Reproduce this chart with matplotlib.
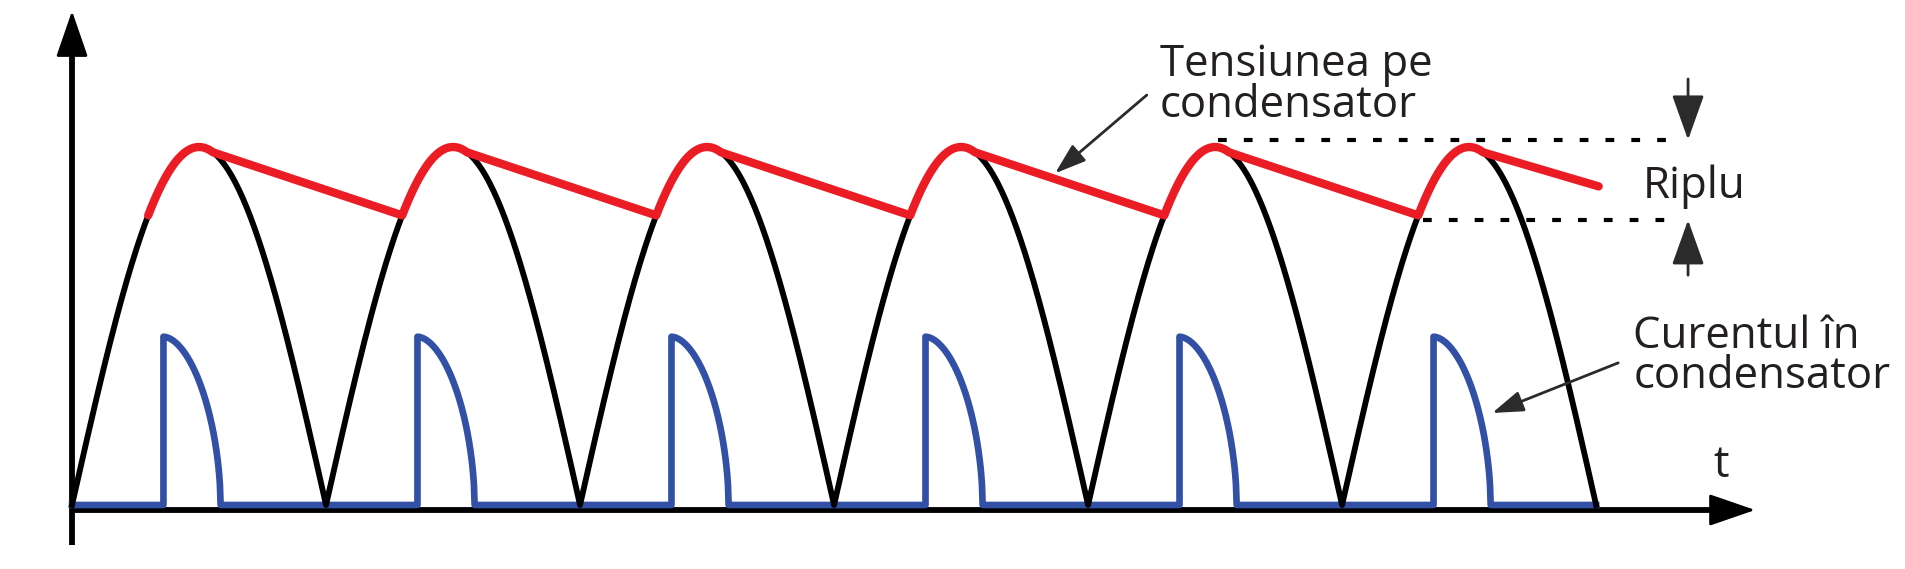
import numpy as np
import matplotlib.pyplot as plt
from matplotlib.patches import FancyArrowPatch

plt.rcParams['font.family'] = ['Open Sans', 'DejaVu Sans']

# rectified sine (time in half-periods, amplitude = 1)
zeros = [0, 1, 2, 3, 4, 5, 6]
peak = 1.0

# capacitor voltage: where charging starts / where it leaves the sine
charge_start = [0.3, 1.3, 2.3, 3.3, 4.3, 5.3]
charge_stop = [0.555, 1.555, 2.555, 3.555, 4.555, 5.555]
red_end_t, red_end_v = 6.01, 0.89

# capacitor current pulses
pulse_start = [0.36, 1.36, 2.36, 3.36, 4.36, 5.36]
pulse_end = [0.585, 1.585, 2.585, 3.585, 4.585, 5.585]
pulse_height = 0.47

# ripple marks
ripple_top, ripple_bottom = 1.02, 0.796
ripple_top_from, ripple_bottom_from, ripple_to = 4.51, 5.32, 6.28
ripple_arrow_t = 6.362

text_color = '#231f20'
red = '#ec1c24'
blue = '#3150a6'
arrow_gray = '#2b2b2b'

fig = plt.figure(figsize=(19.06, 5.69), dpi=100)
ax = fig.add_axes([0, 0, 1, 1])
ax.set_xlim(-0.2835, 7.220)
ax.set_ylim(-0.1788, 1.4106)
ax.axis('off')


def arrow(start, end, style, lw, color, z=6):
    p = FancyArrowPatch(start, end, arrowstyle=style, mutation_scale=20, lw=lw,
                        color=color, shrinkA=0, shrinkB=0, zorder=z)
    ax.add_patch(p)


# axes with arrows
ax.plot([0, 0], [-0.112, 1.30], color='k', lw=4.2, solid_capstyle='butt', zorder=1)
arrow((0, 1.25), (0, 1.380), '-|>,head_length=1.45,head_width=0.5', 2, 'k', 1)
ax.plot([0, 6.5], [-0.014, -0.014], color='k', lw=4.2, solid_capstyle='butt', zorder=1)
arrow((6.45, -0.014), (6.626, -0.014), '-|>,head_length=1.45,head_width=0.5', 2, 'k', 1)

# current (blue)
bt, bv = [zeros[0]], [0]
for s, e in zip(pulse_start, pulse_end):
    u = np.linspace(0, 1, 80)
    bt += [s, s] + list(s + u * (e - s))
    bv += [0, pulse_height] + list(pulse_height * (1 - u ** 1.8) ** 0.55)
bt.append(zeros[-1])
bv.append(0)
ax.plot(bt, bv, color=blue, lw=4.8, zorder=2)

# rectified sine (black)
st, sv = [], []
for a, b in zip(zeros[:-1], zeros[1:]):
    t = np.linspace(a, b, 200)
    st += list(t)
    sv += list(peak * np.abs(np.sin(np.pi * (t - a))))
ax.plot(st, sv, color='k', lw=4.2, zorder=3)

# capacitor voltage (red)
rt, rv = [], []
for s, e in zip(charge_start, charge_stop):
    t = np.linspace(s, e, 60)
    rt += list(t)
    rv += list(peak * np.abs(np.sin(np.pi * t)))
rt.append(red_end_t)
rv.append(red_end_v)
ax.plot(rt, rv, color=red, lw=6.0, zorder=4, solid_capstyle='round')

# ripple dotted lines and arrows
dots = (0, (2.1, 4.1))
ax.plot([ripple_top_from, ripple_to], [ripple_top, ripple_top], color='k', lw=3,
        linestyle=dots, dash_capstyle='butt', zorder=5)
ax.plot([ripple_bottom_from, ripple_to], [ripple_bottom, ripple_bottom], color='k', lw=3,
        linestyle=dots, dash_capstyle='butt', zorder=5)
arrow((ripple_arrow_t, 1.19), (ripple_arrow_t, ripple_top),
      '-|>,head_length=1.4,head_width=0.5', 2, arrow_gray)
arrow((ripple_arrow_t, 0.642), (ripple_arrow_t, ripple_bottom),
      '-|>,head_length=1.4,head_width=0.5', 2, arrow_gray)

# labels (two-line texts: y is the baseline of the last line)
fs = 31.5
ax.text(4.283, 1.084, 'Tensiunea pe\ncondensator', fontsize=fs, color=text_color,
        va='baseline', ha='left', linespacing=0.88)
arrow((4.231, 1.145), (3.870, 0.9265), '-|>,head_length=0.95,head_width=0.32', 2, arrow_gray)

ax.text(6.185, 0.8575, 'Riplu', fontsize=fs, color=text_color, va='baseline', ha='left')

ax.text(6.146, 0.3268, 'Curentul în\ncondensator', fontsize=fs, color=text_color,
        va='baseline', ha='left', linespacing=0.88)
arrow((6.087, 0.397), (5.591, 0.257), '-|>,head_length=0.95,head_width=0.32', 2, arrow_gray)

ax.text(6.46, 0.078, 't', fontsize=fs, color=text_color, va='baseline', ha='left')

fig.savefig('out.png', dpi=100, facecolor='white')
